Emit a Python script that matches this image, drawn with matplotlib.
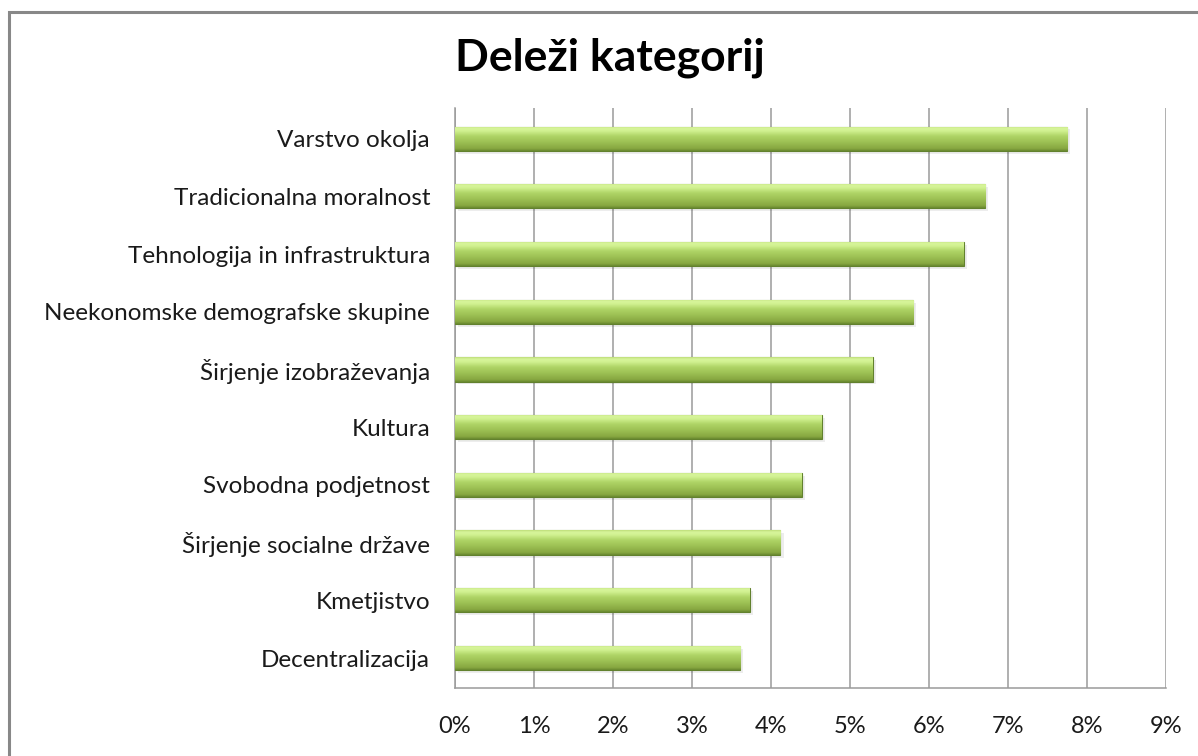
import numpy as np
import matplotlib
matplotlib.use("Agg")
import matplotlib.pyplot as plt
from matplotlib.colors import LinearSegmentedColormap
from matplotlib.patches import Rectangle

# Podatki (od spodaj navzgor)
kategorije = [
    "Decentralizacija",
    "Kmetjistvo",
    "Širjenje socialne države",
    "Svobodna podjetnost",
    "Kultura",
    "Širjenje izobraževanja",
    "Neekonomske demografske skupine",
    "Tehnologija in infrastruktura",
    "Tradicionalna moralnost",
    "Varstvo okolja",
]
delezi = [3.61, 3.73, 4.12, 4.39, 4.64, 5.29, 5.80, 6.44, 6.71, 7.75]
x_ticks = list(range(0, 10))

plt.rcParams["font.family"] = ["Lato", "DejaVu Sans"]

fig = plt.figure(figsize=(11.98, 7.56), dpi=100)
ax = fig.add_axes([0.3798, 0.0899, 0.5935, 0.7672])

y = np.arange(len(kategorije))
h = 0.42

# senca pod stolpci
ax.barh(y - 0.05, delezi, height=h, left=0.04, color="#000000", alpha=0.07,
        linewidth=0, zorder=2)

bars = ax.barh(y, delezi, height=h, color="#9bbb59", edgecolor="#62812e",
               linewidth=0.8, zorder=3)

# gradient (efekt reliefa)
cmap = LinearSegmentedColormap.from_list("relief", [
    (0.0, "#66862f"),
    (0.08, "#86a640"),
    (0.35, "#9cc053"),
    (0.6, "#afd466"),
    (0.82, "#d2f292"),
    (0.93, "#d8f59c"),
    (1.0, "#bddc78"),
])
grad = np.linspace(0, 1, 64).reshape(-1, 1)
for b in bars:
    x0, y0 = b.get_x(), b.get_y()
    w, hh = b.get_width(), b.get_height()
    im = ax.imshow(grad, cmap=cmap, aspect="auto", origin="lower",
                   extent=[x0, x0 + w, y0, y0 + hh], zorder=3.5,
                   interpolation="bicubic")
    im.set_clip_path(b)

ax.set_xlim(0, 9)
ax.set_ylim(-0.52, len(kategorije) - 0.47)
ax.set_xticks(x_ticks)
ax.set_xticklabels([f"{t}%" for t in x_ticks], fontsize=17, color="#1a1a1a")
ax.set_yticks(y)
ax.set_yticklabels(kategorije, fontsize=17.5, color="#1a1a1a")
ax.tick_params(axis="both", length=0)
ax.tick_params(axis="y", pad=18)
ax.tick_params(axis="x", pad=20)

ax.grid(axis="x", color="#9a9a9a", linewidth=1.1, zorder=1)
ax.set_axisbelow(True)
for s in ["top", "right"]:
    ax.spines[s].set_visible(False)
for s in ["left", "bottom"]:
    ax.spines[s].set_color("#9a9a9a")
    ax.spines[s].set_linewidth(1.1)

fig.text(0.509, 0.923, "Deleži kategorij", fontsize=32, fontweight="bold",
         ha="center", va="center", color="#000000")

# okvir grafikona
fig.patches.append(Rectangle((9 / 1198, -0.02), 1.0, (756 - 12) / 756 + 0.02,
                             transform=fig.transFigure, fill=False,
                             edgecolor="#888888", linewidth=2.2))

fig.savefig("out.png", dpi=100, facecolor="white")
